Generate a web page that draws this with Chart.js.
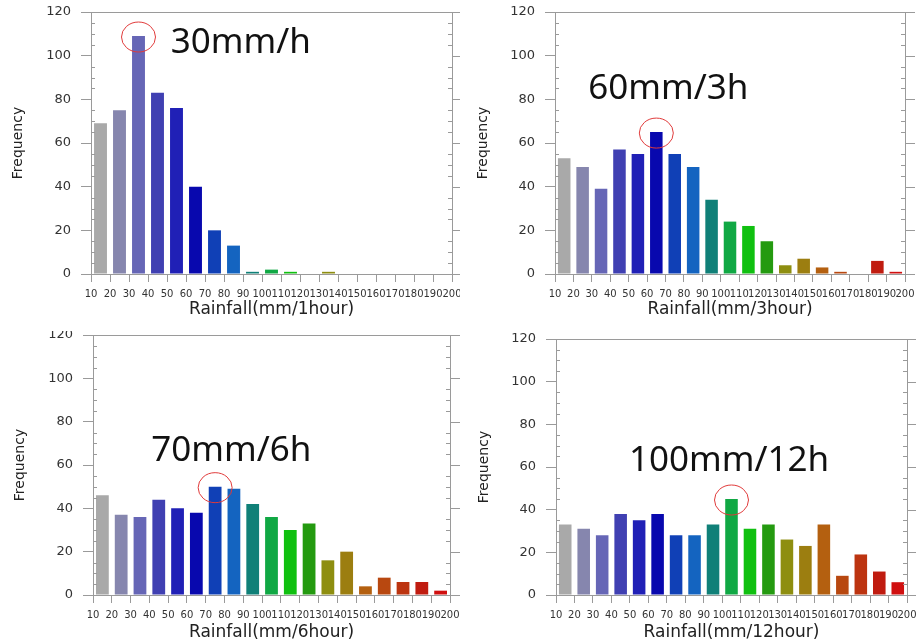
<!DOCTYPE html>
<html>
<head>
<meta charset="utf-8">
<script src="https://cdn.jsdelivr.net/npm/chart.js@4.4.1/dist/chart.umd.min.js"></script>
<style>
  html, body { margin: 0; padding: 0; background: #fff; }
  body { width: 916px; height: 643px; position: relative; overflow: hidden; }
  .panel { position: absolute; }
</style>
</head>
<body>
<div class="panel" style="left:0;top:0;"><canvas id="c1" width="460" height="320"></canvas></div>
<div class="panel" style="left:460px;top:0;"><canvas id="c2" width="456" height="320"></canvas></div>
<div class="panel" style="left:0;top:331px;"><canvas id="c3" width="460" height="312"></canvas></div>
<div class="panel" style="left:460px;top:320px;"><canvas id="c4" width="456" height="323"></canvas></div>
<script>
// bin edges (x tick labels), frequencies per bin
const binEdges = [10, 20, 30, 40, 50, 60, 70, 80, 90, 100, 110, 120, 130, 140, 150, 160, 170, 180, 190, 200];
const freq1h  = [69, 75, 109, 83, 76, 40, 20, 13, 1, 2, 1, 0, 1, 0, 0, 0, 0, 0, 0];
const freq3h  = [53, 49, 39, 57, 55, 65, 55, 49, 34, 24, 22, 15, 4, 7, 3, 1, 0, 6, 1];
const freq6h  = [46, 37, 36, 44, 40, 38, 50, 49, 42, 36, 30, 33, 16, 20, 4, 8, 6, 6, 2];
const freq12h = [33, 31, 28, 38, 35, 38, 28, 28, 33, 45, 31, 33, 26, 23, 33, 9, 19, 11, 6];
const yTicks = [0, 20, 40, 60, 80, 100, 120];

const barColors = [
  '#a9a9a9', '#8686ae', '#6666b6', '#4040b2', '#2020b6', '#0808ae', '#1040b6', '#1464c0',
  '#108078', '#10a844', '#10c010', '#249a10', '#8e8e10', '#9c7e10', '#b46010', '#b84810',
  '#bc3410', '#c01c10', '#d01010'
];

const panels = [
  { id: 'c1', data: freq1h,  xTitle: 'Rainfall(mm/1hour)',  note: '30mm/h',    peak: 2, noteAt: [52, 101],
    pad: { top: 12, right: 8, left: 0 }, yWidth: 91, xHeight: 46, yTitlePad: 10 },
  { id: 'c2', data: freq3h,  xTitle: 'Rainfall(mm/3hour)',  note: '60mm/3h',   peak: 5, noteAt: [28, 80],
    pad: { top: 12, right: 11, left: 0 }, yWidth: 95, xHeight: 46, yTitlePad: 15 },
  { id: 'c3', data: freq6h,  xTitle: 'Rainfall(mm/6hour)',  note: '70mm/6h',   peak: 6, noteAt: [41, 62],
    pad: { top: 4, right: 10, left: 0 }, yWidth: 93, xHeight: 48, yTitlePad: 12 },
  { id: 'c4', data: freq12h, xTitle: 'Rainfall(mm/12hour)', note: '100mm/12h', peak: 9, noteAt: [49.5, 58],
    pad: { top: 19, right: 9, left: 0 }, yWidth: 96, xHeight: 48, yTitlePad: 16 }
];

const axisColor = '#9a9a9a';

// top/right frame, mirrored ticks and inward minor ticks
const frameTicks = {
  id: 'frameTicks',
  afterDraw(chart) {
    const { ctx, chartArea: { left, right, top, bottom }, scales: { y } } = chart;
    ctx.save();
    ctx.strokeStyle = axisColor;
    ctx.lineWidth = 1;
    ctx.beginPath();
    ctx.moveTo(left, top + 0.5); ctx.lineTo(right, top + 0.5);
    ctx.moveTo(right + 0.5, top); ctx.lineTo(right + 0.5, bottom);
    for (let v = 0; v <= 120; v += 5) {
      const py = Math.round(y.getPixelForValue(v)) + 0.5;
      if (v % 20 === 0) {
        ctx.moveTo(right, py); ctx.lineTo(right + 10, py);
      } else {
        ctx.moveTo(left, py); ctx.lineTo(left + 4, py);
        ctx.moveTo(right - 4, py); ctx.lineTo(right, py);
      }
    }
    ctx.stroke();
    ctx.restore();
  }
};

// big label and red circle round the peak bar
const peakNote = {
  id: 'peakNote',
  afterDatasetsDraw(chart, args, opts) {
    const { ctx, scales: { x, y } } = chart;
    const bar = chart.getDatasetMeta(0).data[opts.peak];
    ctx.save();
    ctx.strokeStyle = '#e03a3a';
    ctx.lineWidth = 1;
    ctx.beginPath();
    ctx.ellipse(bar.x, bar.y + 1, 17, 15, 0, 0, Math.PI * 2);
    ctx.stroke();
    ctx.fillStyle = '#111';
    ctx.font = '35px "Noto Sans"';
    ctx.textBaseline = 'alphabetic';
    ctx.textAlign = 'left';
    ctx.fillText(opts.text, x.getPixelForValue(opts.at[0]), y.getPixelForValue(opts.at[1]));
    ctx.restore();
  }
};

panels.forEach(p => {
  const points = p.data.map((v, i) => ({ x: (binEdges[i] + binEdges[i + 1]) / 2, y: v }));
  new Chart(document.getElementById(p.id), {
    type: 'bar',
    data: {
      datasets: [{
        data: points,
        backgroundColor: barColors,
        borderWidth: 0,
        barPercentage: 0.68,
        categoryPercentage: 1
      }]
    },
    options: {
      responsive: false,
      animation: false,
      layout: { padding: { top: p.pad.top, right: p.pad.right, left: p.pad.left, bottom: 0 } },
      plugins: {
        legend: { display: false },
        tooltip: { enabled: false },
        peakNote: { peak: p.peak, text: p.note, at: p.noteAt }
      },
      scales: {
        x: {
          type: 'linear',
          min: binEdges[0],
          max: binEdges[binEdges.length - 1],
          offset: false,
          afterBuildTicks: s => { s.ticks = binEdges.map(v => ({ value: v })); },
          afterFit: s => { s.height = p.xHeight; s.paddingLeft = 0; s.paddingRight = 0; },
          grid: { offset: false, drawOnChartArea: false, tickLength: 8, color: axisColor },
          border: { color: axisColor },
          ticks: {
            autoSkip: false, maxRotation: 0, minRotation: 0, padding: 6,
            color: '#333', font: { family: 'DejaVu Sans', size: 10 },
            callback: v => String(v)
          },
          title: {
            display: true, text: p.xTitle, padding: { top: 0, bottom: 0 },
            color: '#222', font: { family: 'DejaVu Sans', size: 17 }
          }
        },
        y: {
          min: 0,
          max: 120,
          afterBuildTicks: s => { s.ticks = yTicks.map(v => ({ value: v })); },
          afterFit: s => { s.width = p.yWidth; s.paddingTop = 0; s.paddingBottom = 0; },
          grid: { drawOnChartArea: false, tickLength: 10, color: axisColor },
          border: { color: axisColor },
          ticks: { padding: 10, color: '#333', font: { family: 'DejaVu Sans', size: 13 } },
          title: {
            display: true, text: 'Frequency', padding: { top: p.yTitlePad, bottom: 0 },
            color: '#222', font: { family: 'DejaVu Sans', size: 14 }
          }
        }
      }
    },
    plugins: [frameTicks, peakNote]
  });
});
</script>
</body>
</html>
